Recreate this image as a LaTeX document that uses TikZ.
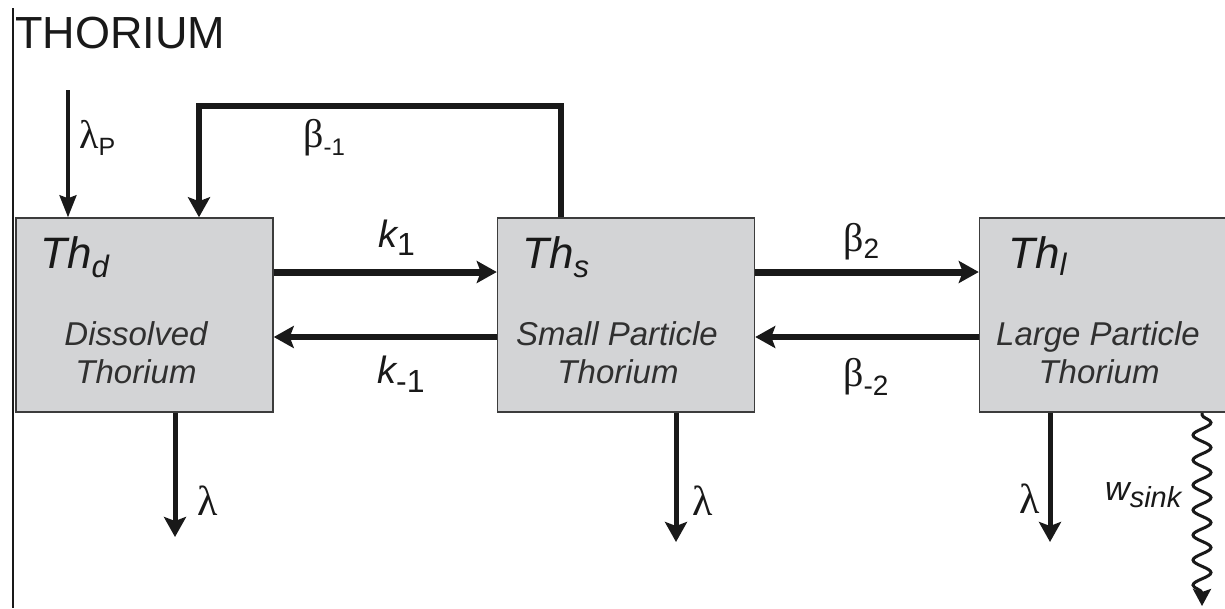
\documentclass[tikz,border=0pt]{standalone}
\usepackage{fontspec}
\setmainfont{Liberation Sans}
\newfontfamily\grk{Liberation Serif}
\usetikzlibrary{arrows.meta,decorations.pathmorphing}
\definecolor{boxgray}{RGB}{211,212,214}
\definecolor{edgegray}{RGB}{60,60,60}
\definecolor{ink}{RGB}{25,25,25}
\newcommand\fsz[1]{\fontsize{#1}{#1}\selectfont}
\newcommand\lowered[2]{\raisebox{-#1pt}{#2}}
\begin{document}
\begin{tikzpicture}[x=1pt,y=-1pt,
  compartment/.style={draw=edgegray, line width=1.5pt, fill=boxgray, minimum width=257pt, minimum height=194pt, inner sep=0pt},
  lbl/.style={anchor=base west, inner sep=0pt, text=ink},
  desc/.style={anchor=base, inner sep=0pt, text=ink!90, font=\fsz{33}\itshape},
  tipbig/.style={-{Stealth[length=20pt,width=22pt,inset=4pt]}},
  flowa/.style={draw=ink, line width=7pt, tipbig},
  flowb/.style={draw=ink, line width=5.5pt, tipbig},
  flowdown/.style={draw=ink, line width=5pt, tipbig},
  loopline/.style={draw=ink, line width=6pt, tipbig},
  inflow/.style={draw=ink, line width=3.3pt, -{Stealth[length=22pt,width=17pt,inset=3pt]}},
  sinkline/.style={draw=ink, line width=3pt, decorate,
     decoration={snake, amplitude=9pt, segment length=25pt, pre length=2pt, post length=9pt},
     -{Stealth[length=17pt,width=18pt,inset=3pt]}}
]
\useasboundingbox (0,0) rectangle (1225,608);
\clip (0,0) rectangle (1225,608);

% frame line and title
\coordinate (lt) at (13,8);
\coordinate (lb) at (13,608);
\draw[draw=ink, line width=2pt] (lt) -- (lb);
\node[lbl] (title) at (15,48) {\fsz{45}THORIUM};

% compartments
\node[compartment] (d) at (144.5,315) {};
\node[compartment] (s) at (626,315) {};
\node[compartment] (l) at (1108,315) {};

\node[lbl] (thd) at (40,268) {\fsz{44}\itshape Th\lowered{9}{\fsz{31}d}};
\node[lbl] (ths) at (522,268) {\fsz{44}\itshape Th\lowered{9}{\fsz{31}s}};
\node[lbl] (thl) at (1008,268) {\fsz{44}\itshape Th\lowered{7}{\fsz{31}l}};

\node[desc] (dd1) at (136,345) {Dissolved};
\node[desc] (dd2) at (136,383) {Thorium};
\node[desc] (sd1) at (617,345) {Small Particle};
\node[desc] (sd2) at (618,383) {Thorium};
\node[desc] (ld1) at (1098,345) {Large Particle};
\node[desc] (ld2) at (1099,383) {Thorium};

% horizontal exchanges
\coordinate (ya) at (0,272);
\coordinate (yb) at (0,337);
\draw[flowa] (d.east |- ya) -- (s.west |- ya);
\draw[flowb] (s.west |- yb) -- (d.east |- yb);
\draw[flowa] (s.east |- ya) -- (l.west |- ya);
\draw[flowb] (l.west |- yb) -- (s.east |- yb);

\node[lbl] (k1) at (378,247) {\fsz{38}\itshape k\lowered{8}{\fsz{32}\upshape 1}};
\node[lbl] (km1) at (377,383) {\fsz{38}\itshape k\lowered{9}{\fsz{32}\upshape -1}};
\node[lbl] (b2) at (843,251) {\grk\fsz{40}β\lowered{7}{\fsz{28}\rmfamily 2}};
\node[lbl] (bm2) at (843,386) {\grk\fsz{40}β\lowered{9}{\fsz{28}\rmfamily -2}};

% feedback loop beta_-1
\coordinate (ra) at (561,106);
\coordinate (rb) at (199,106);
\draw[loopline] (s.north -| ra) -- (ra) -- (rb) -- (d.north -| rb);
\node[lbl] (bm1) at (303,147) {\grk\fsz{40}β\lowered{8}{\fsz{24}\rmfamily -1}};

% production
\coordinate (lp) at (68,90);
\draw[inflow] (lp) -- (d.north -| lp);
\node[lbl] (lampl) at (79,148) {\grk\fsz{40}λ\lowered{7}{\fsz{25}\rmfamily P}};

% decay
\coordinate (ed) at (175,537);
\coordinate (es) at (676,542);
\coordinate (el) at (1050,542);
\draw[flowdown] (d.south -| ed) -- (ed);
\draw[flowdown] (s.south -| es) -- (es);
\draw[flowdown] (l.south -| el) -- (el);
\node[lbl] (lamd) at (197,515) {\grk\fsz{42}λ};
\node[lbl] (lams) at (692,515) {\grk\fsz{42}λ};
\node[lbl] (laml) at (1019,513) {\grk\fsz{42}λ};

% sinking
\coordinate (ws) at (1202,606);
\draw[sinkline] (l.south -| ws) -- (ws);
\node[lbl] (wsink) at (1105,500) {\fsz{34}\itshape w\lowered{7}{\fsz{29}sink}};
\end{tikzpicture}
\end{document}
